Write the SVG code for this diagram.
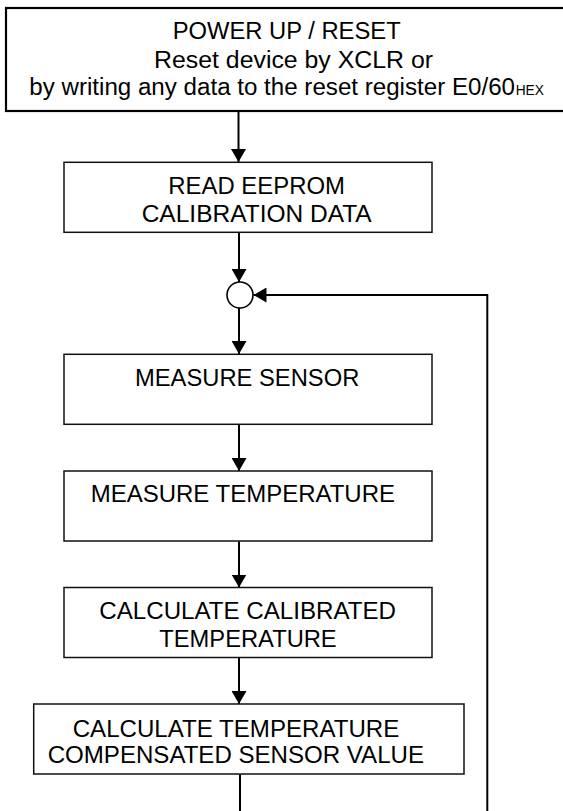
<svg xmlns="http://www.w3.org/2000/svg" width="563" height="811" viewBox="0 0 563 811">
  <style>
    .box { fill: #ffffff; stroke: #111111; stroke-width: 1.5; }
    .box-main { fill: #ffffff; stroke: #000000; stroke-width: 2.2; }
    .lbl { font-family: "Liberation Sans", Arial, sans-serif; font-size: 23px; fill: #000000; }
    .sub { font-family: "Liberation Sans", Arial, sans-serif; font-size: 14px; fill: #000000; }
    .wire { fill: none; stroke: #000000; stroke-width: 2; }
    .join { fill: #ffffff; stroke: #000000; stroke-width: 1.6; }
  </style>
  <defs>
    <marker id="head" markerUnits="userSpaceOnUse" markerWidth="14" markerHeight="15" refX="13" refY="7.5" orient="auto">
      <path d="M0,0 L13,7.5 L0,15 z" fill="#000000"/>
    </marker>
  </defs>

  <rect width="563" height="811" fill="#ffffff"/>

  <!-- connectors -->
  <g id="connectors">
    <path class="wire" d="M238.5,112 V162" marker-end="url(#head)"/>
    <path class="wire" d="M239,233 V282" marker-end="url(#head)"/>
    <path class="wire" d="M239,308 V354" marker-end="url(#head)"/>
    <path class="wire" d="M239,425 V471" marker-end="url(#head)"/>
    <path class="wire" d="M239,541.5 V587.5" marker-end="url(#head)"/>
    <path class="wire" d="M239,658 V704" marker-end="url(#head)"/>
    <path class="wire" d="M240,774.5 V811"/>
    <path class="wire" d="M487.3,811 V295 H253.5" marker-end="url(#head)"/>
  </g>

  <!-- power up / reset -->
  <g id="power-up">
    <rect class="box-main" x="6" y="8" width="562" height="103"/>
    <text class="lbl" x="172.7" y="39" textLength="228" lengthAdjust="spacingAndGlyphs">POWER UP / RESET</text>
    <text class="lbl" x="154" y="67.5" textLength="279" lengthAdjust="spacingAndGlyphs">Reset device by XCLR or</text>
    <text class="lbl" x="29.3" y="94.5" textLength="485.7" lengthAdjust="spacingAndGlyphs">by writing any data to the reset register E0/60</text>
    <text class="sub" x="515.7" y="94.5" textLength="28.3" lengthAdjust="spacingAndGlyphs">HEX</text>
  </g>

  <!-- read eeprom -->
  <g id="read-eeprom">
    <rect class="box" x="64" y="162.3" width="368" height="70"/>
    <text class="lbl" x="168.3" y="194.3" textLength="176.7" lengthAdjust="spacingAndGlyphs">READ EEPROM</text>
    <text class="lbl" x="141.7" y="222" textLength="230" lengthAdjust="spacingAndGlyphs">CALIBRATION DATA</text>
  </g>

  <!-- loop junction -->
  <g id="junction">
    <circle class="join" cx="240" cy="295" r="13"/>
  </g>

  <!-- measure sensor -->
  <g id="measure-sensor">
    <rect class="box" x="64" y="354.3" width="368" height="70"/>
    <text class="lbl" x="135" y="385.7" textLength="224.3" lengthAdjust="spacingAndGlyphs">MEASURE SENSOR</text>
  </g>

  <!-- measure temperature -->
  <g id="measure-temperature">
    <rect class="box" x="64" y="471" width="368" height="70"/>
    <text class="lbl" x="90.7" y="502.3" textLength="304.3" lengthAdjust="spacingAndGlyphs">MEASURE TEMPERATURE</text>
  </g>

  <!-- calibrated temperature -->
  <g id="calc-temperature">
    <rect class="box" x="64" y="587.5" width="368" height="70"/>
    <text class="lbl" x="99.3" y="619" textLength="296.7" lengthAdjust="spacingAndGlyphs">CALCULATE CALIBRATED</text>
    <text class="lbl" x="159.3" y="646.5" textLength="177.4" lengthAdjust="spacingAndGlyphs">TEMPERATURE</text>
  </g>

  <!-- compensated sensor value -->
  <g id="calc-sensor">
    <rect class="box" x="33.7" y="704" width="430.3" height="70"/>
    <text class="lbl" x="72.7" y="736.5" textLength="326.6" lengthAdjust="spacingAndGlyphs">CALCULATE TEMPERATURE</text>
    <text class="lbl" x="47.7" y="762.5" textLength="376.3" lengthAdjust="spacingAndGlyphs">COMPENSATED SENSOR VALUE</text>
  </g>
</svg>
